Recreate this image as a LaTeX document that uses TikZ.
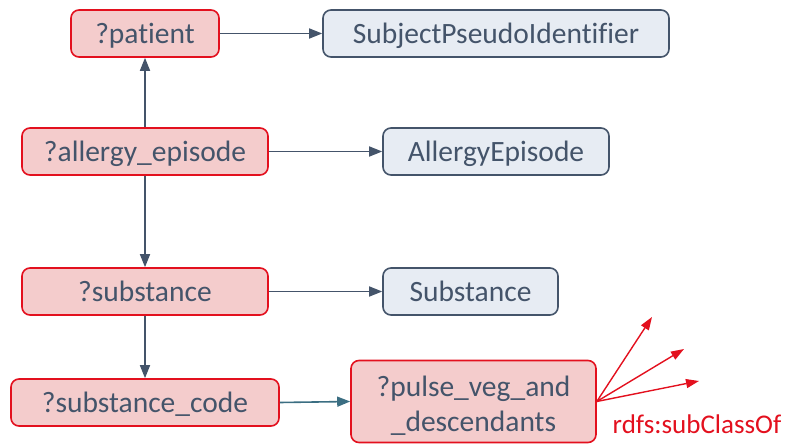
\documentclass[tikz,border=0pt]{standalone}
\usepackage{fontspec}
\setmainfont{Carlito}[Ligatures={NoCommon}]
\usetikzlibrary{arrows.meta}
\definecolor{slate}{HTML}{44546A}
\definecolor{varfill}{HTML}{F4CCCC}
\definecolor{varline}{HTML}{E3101E}
\definecolor{clsfill}{HTML}{E7ECF3}
\definecolor{teal}{HTML}{3B6E82}
\tikzset{
  box/.style={rounded corners=8bp, line width=1.6bp, inner sep=0pt, text=slate,
    font=\fontsize{29.5bp}{35bp}\selectfont, align=center},
  oneline/.style={text height=21.5bp, text depth=1.5bp},
  varbox/.style={box, draw=varline, fill=varfill},
  clsbox/.style={box, draw=slate, fill=clsfill},
  link/.style={draw=slate, line width=1.6bp, -{Triangle[length=13bp,width=10bp]}},
  sublink/.style={draw=varline, line width=1.4bp, -{Triangle[length=13bp,width=9bp]}},
}
\begin{document}
\begin{tikzpicture}[x=1bp,y=-1bp]
\useasboundingbox (0,0) rectangle (787,444);
% variable nodes
\node[varbox, oneline, minimum width=148bp, minimum height=47bp] (pat) at (145,33.5) {?patient};
\node[varbox, oneline, minimum width=246bp, minimum height=47bp] (ep) at (145,151.5) {?allergy\_episode};
\node[varbox, oneline, minimum width=246bp, minimum height=47bp] (sub) at (145,291.5) {?substance};
\node[varbox, oneline, minimum width=268bp, minimum height=47bp] (code) at (145,402.5) {?substance\_code};
\node[varbox, minimum width=245bp, minimum height=82bp] (pulse) at (473.5,401.5)
  {\rule{0pt}{29bp}?pulse\_veg\_and\\\_descendants};
% class nodes
\node[clsbox, oneline, minimum width=346bp, minimum height=47bp] (spi) at (496,33.5) {SubjectPseudoIdentifier};
\node[clsbox, oneline, minimum width=226bp, minimum height=47bp] (ae) at (496,151.5) {AllergyEpisode};
\node[clsbox, oneline, minimum width=175bp, minimum height=47bp] (scl) at (470.5,291.5) {Substance};
% connectors
\draw[link] (pat.east) -- (spi.west);
\draw[link] (ep.east) -- (ae.west);
\draw[link] (sub.east) -- (scl.west);
\draw[link] (ep.north) -- (pat.south);
\draw[link] (ep.south) -- (sub.north);
\draw[link] (sub.south) -- (code.north);
\draw[link, draw=teal] (code.east) -- (pulse.west);
% subclass fan
\coordinate (s1) at (652,317);
\coordinate (s2) at (684,349);
\coordinate (s3) at (699,381);
\draw[sublink] (pulse.east) -- (s1);
\draw[sublink] (pulse.east) -- (s2);
\draw[sublink] (pulse.east) -- (s3);
\node[text=varline, font=\fontsize{27bp}{30bp}\selectfont, anchor=center] (lbl) at (697,424) {rdfs:subClassOf};
\end{tikzpicture}
\end{document}
